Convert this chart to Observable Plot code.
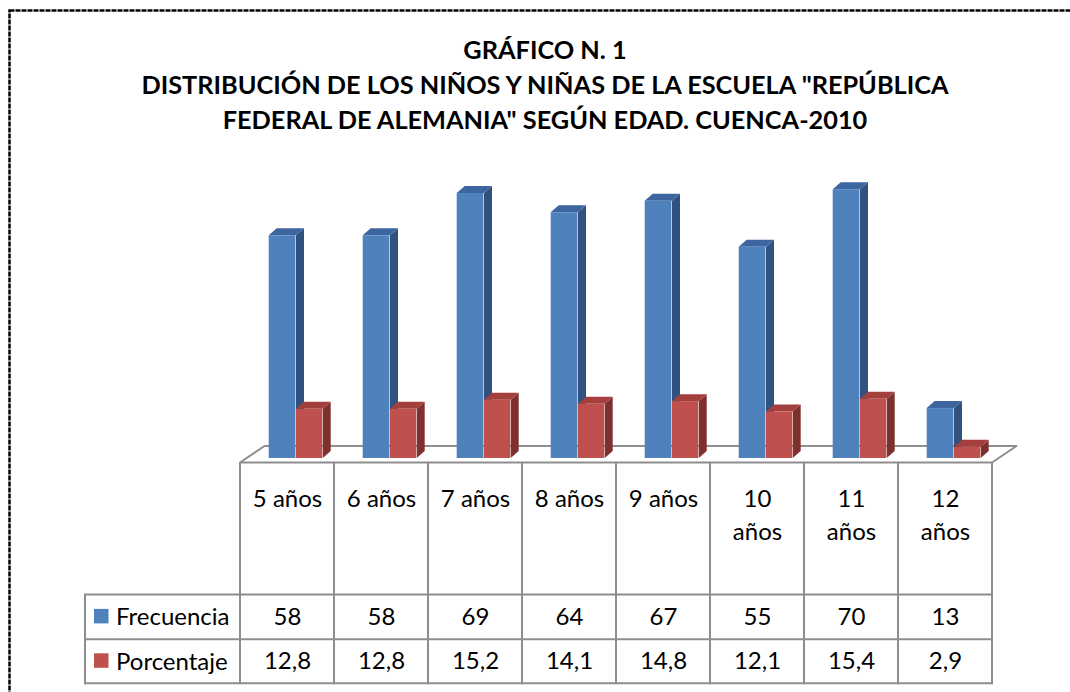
<!DOCTYPE html>
<html>
<head>
<meta charset="utf-8">
<script src="https://cdn.jsdelivr.net/npm/d3@7"></script>
<script src="https://cdn.jsdelivr.net/npm/@observablehq/plot@0.6"></script>
<style>
  html, body { margin: 0; padding: 0; background: #fff; }
  body { width: 1070px; height: 692px; overflow: hidden; position: relative; font-family: Lato, sans-serif; }
  #frame { position: absolute; left: 0; top: 0; }
  #title { position: absolute; left: 0; top: 32px; width: 1090px; text-align: center; font-weight: 700;
           font-size: 25.3px; line-height: 35px; color: #000; white-space: nowrap; }
  #chart { position: absolute; left: 0; top: 150px; }
</style>
</head>
<body>
<svg id="frame" width="1070" height="692"></svg>
<div id="title"></div>
<div id="chart"></div>
<script>
// ---- data ----
const titleLines = [
  "GRÁFICO N. 1",
  "DISTRIBUCIÓN DE LOS NIÑOS Y NIÑAS DE LA ESCUELA \"REPÚBLICA",
  "FEDERAL DE ALEMANIA\" SEGÚN EDAD. CUENCA-2010"
];
const categories = ["5 años", "6 años", "7 años", "8 años", "9 años", "10 años", "11 años", "12 años"];
const frecuencia = [58, 58, 69, 64, 67, 55, 70, 13];
const porcentaje = [12.8, 12.8, 15.2, 14.1, 14.8, 12.1, 15.4, 2.9];
const seriesNames = ["Frecuencia", "Porcentaje"];

// ---- styling / layout (not data) ----
const frontColors = ["#4f81bd", "#c0504d"];
const topColors = ["#3d66a1", "#a3403d"];
const sideColors = ["#31517f", "#7e302e"];
const gridColor = "#8e8e8e";
const L = {
  bars: [[28.7, 56.0], [56.0, 82.7]], // front face x-offsets inside each band
  dx: 8, dy: -7,                       // bar depth
  floorFront: 4.5, floorBack: -12, floorDx: 24.5,
  headerBottom: 136.5, row1Bottom: 181.3, row2Bottom: 225.3,
  legendWidth: 155
};

document.getElementById("title").innerHTML = titleLines.map(t => t.replace(/&/g, "&amp;").replace(/</g, "&lt;")).join("<br>");

// outer dashed frame
d3.select("#frame").append("rect")
  .attr("x", 9.5).attr("y", 10.5).attr("width", 1100).attr("height", 800)
  .attr("fill", "none").attr("stroke", "#000").attr("stroke-width", 2.5)
  .attr("stroke-dasharray", "5 1");

const rows = categories.map((c, i) => ({categoria: c, frecuencia: frecuencia[i], porcentaje: porcentaje[i]}));
const fmt = v => String(v).replace(".", ",");
const label = c => c.split(" ")[0].length > 1 ? c.replace(" ", "\n") : c;

function floorMark(index, scales) {
  const {x, y} = scales;
  const bw = x(categories[1]) - x(categories[0]);
  const x0 = x(categories[0]), x1 = x(categories[categories.length - 1]) + bw;
  const yb = y(0);
  const g = d3.create("svg:g");
  g.append("path")
    .attr("d", `M${x0},${yb + L.floorFront}L${x0 + L.floorDx},${yb + L.floorBack}L${x1 + L.floorDx},${yb + L.floorBack}L${x1},${yb + L.floorFront}Z`)
    .attr("fill", "#fff").attr("stroke", gridColor).attr("stroke-width", 2).attr("stroke-linejoin", "round");
  return g.node();
}

function depthMark(index, scales) {
  const {x, y} = scales;
  const g = d3.create("svg:g");
  const y0 = y(0);
  categories.forEach((c, i) => {
    [frecuencia[i], porcentaje[i]].forEach((v, s) => {
      const xa = x(c) + L.bars[s][0], xb = x(c) + L.bars[s][1], yt = y(v);
      g.append("path")
        .attr("d", `M${xb},${yt}L${xb + L.dx},${yt + L.dy}L${xb + L.dx},${y0 + L.dy}L${xb},${y0}Z`)
        .attr("fill", sideColors[s]);
      g.append("path")
        .attr("d", `M${xa},${yt}L${xa + L.dx},${yt + L.dy}L${xb + L.dx},${yt + L.dy}L${xb},${yt}Z`)
        .attr("fill", topColors[s]);
    });
  });
  return g.node();
}

function tableMark(index, scales) {
  const {x, y, color} = scales;
  const bw = x(categories[1]) - x(categories[0]);
  const x0 = x(categories[0]), x1 = x(categories[categories.length - 1]) + bw;
  const yb = y(0);
  const xl = x0 - L.legendWidth;
  const g = d3.create("svg:g");
  const seg = (ax, ay, bx, by) => g.append("path")
    .attr("d", `M${ax},${ay}L${bx},${by}`)
    .attr("fill", "none").attr("stroke", gridColor).attr("stroke-width", 2);
  for (let k = 0; k <= categories.length; ++k) {
    const xx = x0 + k * bw;
    seg(xx, yb + L.floorFront, xx, yb + L.row2Bottom + 1);
  }
  [L.headerBottom, L.row1Bottom, L.row2Bottom].forEach(dy => seg(xl - 1, yb + dy, x1 + 1, yb + dy));
  seg(xl, yb + L.headerBottom, xl, yb + L.row2Bottom + 1);
  // legend keys
  const tops = [L.headerBottom, L.row1Bottom], bots = [L.row1Bottom, L.row2Bottom];
  seriesNames.forEach((name, s) => {
    const cy = yb + (tops[s] + bots[s]) / 2;
    g.append("rect").attr("x", xl + 9).attr("y", cy - 8).attr("width", 14.5).attr("height", 14.5)
      .attr("fill", color ? color(name) : frontColors[s]);
    g.append("text").attr("x", xl + 31).attr("y", cy + 8.5).attr("font-size", 24)
      .attr("text-anchor", "start").attr("font-family", "Lato").attr("fill", "#000").text(name);
  });
  return g.node();
}

const chart = Plot.plot({
  width: 1070,
  height: 542,
  marginLeft: 238,
  marginRight: 75.4,
  marginTop: 20,
  marginBottom: 234,
  x: {type: "band", domain: categories, padding: 0, axis: null},
  y: {domain: [0, 75], axis: null},
  color: {domain: seriesNames, range: frontColors},
  style: {background: "transparent", fontFamily: "Lato", overflow: "visible"},
  marks: [
    floorMark,
    depthMark,
    Plot.barY(rows, {x: "categoria", y: "frecuencia", fill: () => seriesNames[0],
      insetLeft: L.bars[0][0], insetRight: 94.575 - L.bars[0][1]}),
    Plot.barY(rows, {x: "categoria", y: "porcentaje", fill: () => seriesNames[1],
      insetLeft: L.bars[1][0], insetRight: 94.575 - L.bars[1][1]}),
    tableMark,
    Plot.text(rows, {x: "categoria", text: d => label(d.categoria), frameAnchor: "bottom",
      lineAnchor: "top", dy: 25.6, lineHeight: 1.358, fontSize: 24, fill: "#000"}),
    Plot.text(rows, {x: "categoria", text: d => fmt(d.frecuencia), frameAnchor: "bottom",
      lineAnchor: "middle", dy: 159.3, fontSize: 24, fill: "#000"}),
    Plot.text(rows, {x: "categoria", text: d => fmt(d.porcentaje), frameAnchor: "bottom",
      lineAnchor: "middle", dy: 202.6, fontSize: 24, fill: "#000"})
  ]
});
document.getElementById("chart").append(chart);
</script>
</body>
</html>
